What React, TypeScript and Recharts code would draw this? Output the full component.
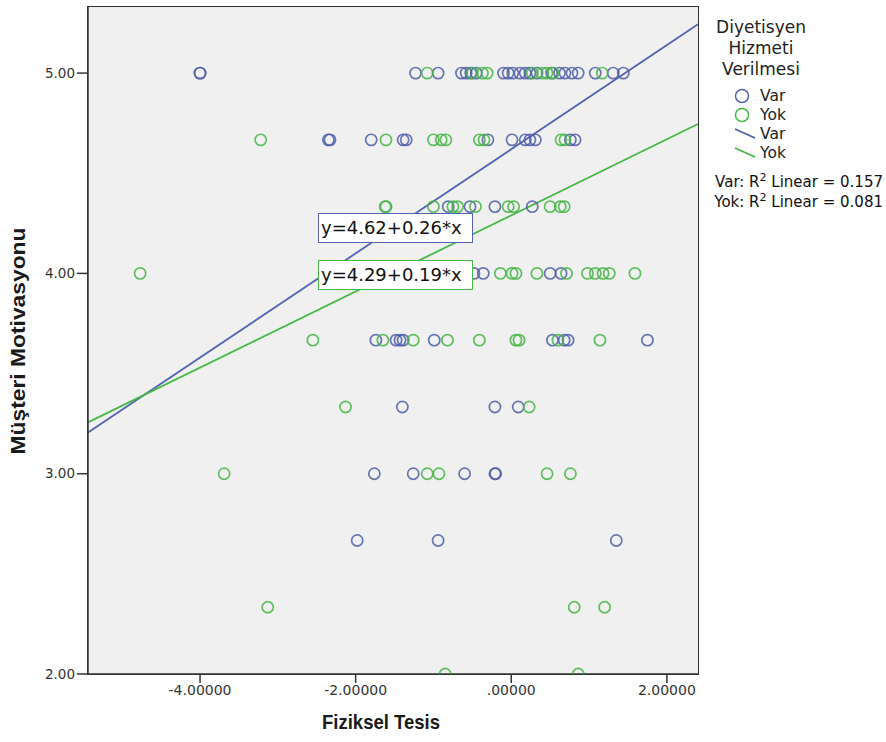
import React from "react";
import {
  ScatterChart,
  Scatter,
  XAxis,
  YAxis,
  CartesianGrid,
  ReferenceLine,
} from "recharts";

// Score levels (y values) and x positions per level
const levels = [5, 4.6667, 4.3333, 4, 3.6667, 3.3333, 3, 2.6667, 2.3333, 2];

const varX: number[][] = [
  [-4.0, -4.0, -1.23, -0.94, -0.64, -0.58, -0.52, -0.45, -0.1, -0.04, 0.02, 0.11, 0.18, 0.24, 0.33, 0.52, 0.62, 0.69, 0.78, 0.86, 1.08, 1.31, 1.44],
  [-2.35, -2.33, -1.8, -1.39, -1.35, -0.3, 0.01, 0.18, 0.24, 0.31, 0.76, 0.82],
  [-0.81, -0.53, -0.21, 0.27],
  [-0.48, -0.36, 0.5, 0.64],
  [-1.74, -1.48, -1.43, -1.39, -0.99, 0.53, 0.68, 0.73, 1.75],
  [-1.4, -0.21, 0.09],
  [-1.76, -1.26, -0.6, -0.21, -0.2],
  [-1.98, -0.94, 1.35],
  [],
  [],
];

const yokX: number[][] = [
  [-1.08, -0.5, -0.37, -0.31, 0.27, 0.4, 0.46, 0.54, 1.17],
  [-3.22, -1.61, -1.0, -0.9, -0.84, -0.41, -0.35, 0.64, 0.69],
  [-1.62, -1.61, -1.0, -0.75, -0.69, -0.46, -0.04, 0.03, 0.5, 0.63, 0.68],
  [-4.77, -0.14, 0.01, 0.06, 0.33, 0.71, 0.98, 1.08, 1.18, 1.26, 1.59],
  [-2.55, -1.65, -1.26, -0.82, -0.41, 0.06, 0.1, 0.6, 1.14],
  [-2.13, 0.23],
  [-3.69, -1.08, -0.93, 0.46, 0.76],
  [],
  [-3.13, 0.81, 1.2],
  [-0.85, 0.86],
];

// Regression fits: intercept, slope
const fits = [
  { name: "Var", a: 4.62, b: 0.26, color: "#5563b3" },
  { name: "Yok", a: 4.29, b: 0.19, color: "#46b946" },
];
const rSquared = [
  { name: "Var", r2: "0.157" },
  { name: "Yok", r2: "0.081" },
];

const xDomain: [number, number] = [-5.44, 2.4];
const yDomain: [number, number] = [2, 5.33];
const xTicks = [-4, -2, 0, 2];
const yTicks = [2, 3, 4, 5];

const toPoints = (rows: number[][]) =>
  rows.flatMap((xs, i) => xs.map((x) => ({ x, y: levels[i] })));

const varPoints = toPoints(varX);
const yokPoints = toPoints(yokX);

const fmtX = (v: number) => {
  const s = v.toFixed(5);
  if (s.startsWith("0.")) return s.slice(1);
  if (s.startsWith("-0.")) return "-" + s.slice(2);
  return s;
};
const fmtY = (v: number) => v.toFixed(2);

const makeCircle = (color: string) => (props: any) => (
  <circle
    cx={props.cx}
    cy={props.cy}
    r={5.6}
    fill="none"
    stroke={color}
    strokeOpacity={0.85}
    strokeWidth={1.7}
  />
);

const FONT = '"DejaVu Sans", "Liberation Sans", Arial, sans-serif';
const TITLE = '"Liberation Sans", Arial, sans-serif';

const PLOT = { left: 88, top: 7, right: 698, bottom: 674 };

const XTitle = () => (
  <text
    x={381}
    y={729}
    textAnchor="middle"
    fontFamily={TITLE}
    fontWeight={700}
    fontSize={21}
    fill="#1a1a1a"
    textLength={118}
    lengthAdjust="spacingAndGlyphs"
  >
    Fiziksel Tesis
  </text>
);

const YTitle = () => (
  <text
    x={0}
    y={0}
    transform="translate(25 341) rotate(-90)"
    textAnchor="middle"
    fontFamily={TITLE}
    fontWeight={700}
    fontSize={21}
    fill="#1a1a1a"
    textLength={227}
    lengthAdjust="spacingAndGlyphs"
  >
    Müşteri Motivasyonu
  </text>
);

export default function App() {
  return (
    <div
      style={{
        position: "absolute",
        left: 0,
        top: 0,
        width: 886,
        height: 742,
        background: "#ffffff",
        fontFamily: FONT,
      }}
    >
      <ScatterChart
        width={886}
        height={742}
        margin={{ top: PLOT.top, right: 886 - PLOT.right, bottom: 0, left: 0 }}
      >
        <CartesianGrid fill="#f0f0f0" horizontal={false} vertical={false} />
        <XAxis
          type="number"
          dataKey="x"
          domain={xDomain}
          ticks={xTicks}
          tickFormatter={fmtX}
          allowDataOverflow
          height={742 - PLOT.bottom}
          tickSize={9}
          stroke="#333"
          strokeWidth={1.5}
          tick={{ fill: "#333", fontSize: 14, fontFamily: FONT }}
          label={{ content: () => <XTitle /> }}
        />
        <YAxis
          type="number"
          dataKey="y"
          domain={yDomain}
          ticks={yTicks}
          tickFormatter={fmtY}
          allowDataOverflow
          width={PLOT.left}
          tickSize={11}
          stroke="#333"
          strokeWidth={1.5}
          tick={{ fill: "#333", fontSize: 13.5, fontFamily: FONT }}
          label={{ content: () => <YTitle /> }}
        />
        {fits.map((f) => (
          <ReferenceLine
            key={f.name}
            segment={[
              { x: xDomain[0], y: f.a + f.b * xDomain[0] },
              { x: xDomain[1], y: f.a + f.b * xDomain[1] },
            ]}
            stroke={f.color}
            strokeWidth={1.8}
            ifOverflow="visible"
          />
        ))}
        <Scatter
          name="Var"
          data={varPoints}
          shape={makeCircle("#4f5ea8")}
          isAnimationActive={false}
        />
        <Scatter
          name="Yok"
          data={yokPoints}
          shape={makeCircle("#45b545")}
          isAnimationActive={false}
        />
      </ScatterChart>

      {/* plot frame */}
      <div
        style={{
          position: "absolute",
          left: PLOT.left - 1,
          top: PLOT.top - 1,
          width: PLOT.right - PLOT.left,
          height: PLOT.bottom - PLOT.top,
          border: "1.5px solid #333",
          pointerEvents: "none",
        }}
      />

      {/* equation labels */}
      {fits.map((f, i) => (
        <div
          key={f.name}
          style={{
            position: "absolute",
            left: 318,
            top: 213 + i * 47,
            width: 151,
            height: 28,
            border: `1.5px solid ${f.color}`,
            background: "#ffffff",
            fontFamily: FONT,
            fontSize: 18,
            color: "#111",
            lineHeight: "28px",
            paddingLeft: 2,
            boxSizing: "content-box",
            whiteSpace: "nowrap",
          }}
        >
          {`y=${f.a.toFixed(2)}+${f.b.toFixed(2)}*x`}
        </div>
      ))}

      {/* legend */}
      <div
        style={{
          position: "absolute",
          left: 700,
          top: 17,
          width: 122,
          textAlign: "center",
          fontFamily: FONT,
          fontSize: 17,
          lineHeight: "21px",
          color: "#222",
        }}
      >
        Diyetisyen
        <br />
        Hizmeti
        <br />
        Verilmesi
      </div>
      <div
        style={{
          position: "absolute",
          left: 733,
          top: 86,
          fontFamily: FONT,
          fontSize: 15.5,
          color: "#222",
        }}
      >
        {fits.map((f) => (
          <div key={"c" + f.name} style={{ height: 19, display: "flex", alignItems: "center" }}>
            <svg width={22} height={19}>
              <circle cx={9} cy={10} r={6.5} fill="none" stroke={f.color} strokeWidth={1.5} />
            </svg>
            <span style={{ marginLeft: 5 }}>{f.name}</span>
          </div>
        ))}
        {fits.map((f) => (
          <div key={"l" + f.name} style={{ height: 19, display: "flex", alignItems: "center" }}>
            <svg width={22} height={19}>
              <line x1={2} y1={5} x2={24} y2={15} stroke={f.color} strokeWidth={1.8} />
            </svg>
            <span style={{ marginLeft: 5 }}>{f.name}</span>
          </div>
        ))}
      </div>
      <div
        style={{
          position: "absolute",
          right: 3,
          top: 172,
          textAlign: "right",
          fontFamily: FONT,
          fontSize: 15,
          lineHeight: "20px",
          color: "#111",
          whiteSpace: "nowrap",
        }}
      >
        {rSquared.map((r) => (
          <div key={r.name}>
            {r.name}: R<sup style={{ fontSize: 11, lineHeight: 0 }}>2</sup> Linear = {r.r2}
          </div>
        ))}
      </div>
    </div>
  );
}
